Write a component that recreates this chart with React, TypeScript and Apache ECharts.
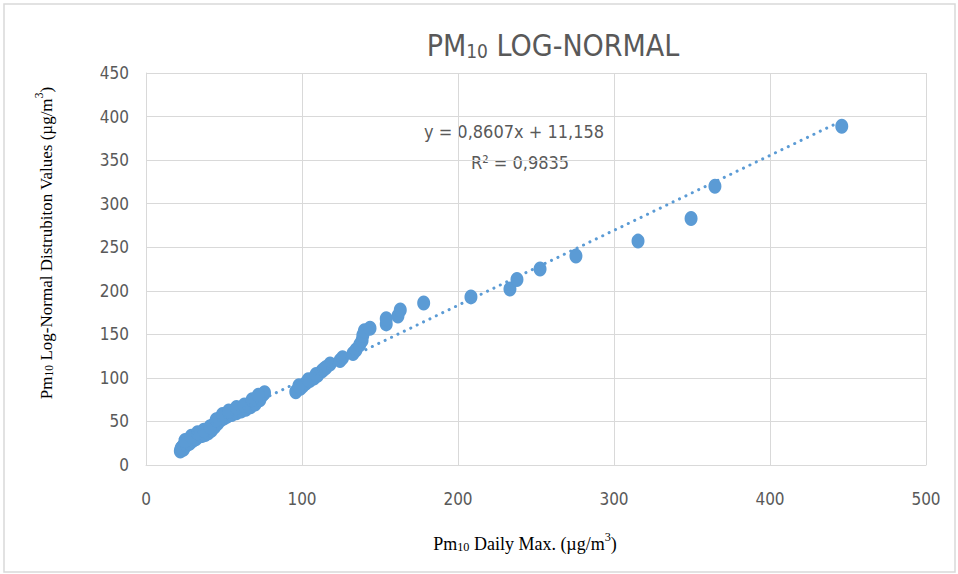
import React, { useEffect, useRef } from "react";
import * as echarts from "echarts";

const dailyMax: number[] = [
  22, 22.5, 23, 24, 25, 26, 27, 28, 29, 30, 31, 32, 33, 34, 35, 36, 37, 38, 39, 40,
  41, 42, 43, 44, 45, 46, 47, 48, 49, 50, 52, 54, 55, 57, 59, 60, 62, 63, 65, 66,
  68, 69, 70, 71, 72, 73, 74, 75, 76,
  24, 26, 28, 30, 32, 34, 36, 38, 40, 42, 44, 46, 48, 50, 52, 55, 58, 61, 64, 67, 70, 73,
  25, 29, 33, 37, 41, 45, 49, 53, 58, 63, 68, 72,
  96, 99, 100.6, 102.6, 105, 107.7, 110, 112.8, 115.4, 118, 124.4, 126, 132.7, 134.6,
  137, 138.5, 139, 140, 143.6, 154, 154, 161.5, 163, 178, 208.3, 233.3, 237.8, 252.6,
  275.6, 315.4, 349.4, 364.7, 446,
  98, 104, 109, 114,
];
const logNormalValues: number[] = [
  16, 19, 20, 22, 24, 26, 27, 29, 30, 31, 32, 33, 34, 35, 36, 37, 37, 38, 39, 39,
  41, 43, 45, 47, 49, 51, 53, 54, 55, 57, 59, 60, 61, 62, 63, 64, 65, 66, 68, 69,
  71, 72, 74, 75, 77, 78, 80, 81, 83,
  18, 23, 25, 28, 30, 33, 34, 35, 37, 40, 44, 48, 52, 54, 56, 58, 60, 62, 64, 67, 70, 75,
  28, 33, 37, 40, 44, 52, 58, 62, 66, 69, 75, 80,
  84, 88, 91, 94, 97, 100, 103, 108, 112, 116, 120, 123, 128, 132,
  138, 143, 149, 154, 157, 162, 168, 171, 178, 186, 193, 202, 213, 225,
  240, 257, 283, 320, 389,
  91, 98, 104, 110,
];
const trendSlope = 0.8607;
const trendIntercept = 11.158;
const equationLabel = "y = 0,8607x + 11,158";
const r2Label = "R² = 0,9835";
const xTicks = { min: 0, max: 500, interval: 100 };
const yTicks = { min: 0, max: 450, interval: 50 };

const BLUE = "#5b9bd5";
const GRID = "#d9d9d9";
const LABEL = "#595959";
const NARROW = "'Liberation Sans Narrow', 'DejaVu Sans Condensed', 'Roboto Condensed', Roboto, sans-serif";
const SERIF = "'Liberation Serif', 'Times New Roman', serif";

const serifRich = (size: number) => ({
  a: { fontSize: size, fontFamily: SERIF, fill: "#000", lineHeight: 22, verticalAlign: "bottom" },
  s: { fontSize: size * 0.68, fontFamily: SERIF, fill: "#000", lineHeight: 12, verticalAlign: "bottom" },
  p: { fontSize: size * 0.68, fontFamily: SERIF, fill: "#000", lineHeight: 22, verticalAlign: "top" },
});

export default function App() {
  const ref = useRef<HTMLDivElement>(null);
  useEffect(() => {
    if (!ref.current) return;
    const chart = echarts.init(ref.current, null, { renderer: "svg" });
    const points = dailyMax.map((x, i) => [x, logNormalValues[i]]);
    const xMin = Math.min(...dailyMax);
    const xMax = Math.max(...dailyMax);
    const trend = [
      [xMin, trendSlope * xMin + trendIntercept],
      [xMax, trendSlope * xMax + trendIntercept],
    ];
    chart.setOption({
      animation: false,
      backgroundColor: "#ffffff",
      grid: { left: 146, right: 32, top: 73, bottom: 109 },
      xAxis: {
        type: "value",
        min: xTicks.min,
        max: xTicks.max,
        interval: xTicks.interval,
        axisLine: { show: true, lineStyle: { color: GRID, width: 1 } },
        axisTick: { show: false },
        splitLine: { show: true, lineStyle: { color: GRID, width: 1 } },
        axisLabel: { color: LABEL, fontSize: 17, fontFamily: NARROW, margin: 25 },
      },
      yAxis: {
        type: "value",
        min: yTicks.min,
        max: yTicks.max,
        interval: yTicks.interval,
        axisLine: { show: true, lineStyle: { color: GRID, width: 1 } },
        axisTick: { show: false },
        splitLine: { show: true, lineStyle: { color: GRID, width: 1 } },
        axisLabel: { color: LABEL, fontSize: 17, fontFamily: NARROW, margin: 17 },
      },
      series: [
        {
          type: "line",
          data: trend,
          symbol: "none",
          silent: true,
          lineStyle: { color: BLUE, width: 3, type: [0.1, 7], cap: "round" },
          z: 3,
        },
        {
          type: "scatter",
          data: points,
          symbol: "circle",
          symbolSize: [13, 15],
          itemStyle: { color: BLUE, opacity: 1 },
          z: 2,
        },
      ],
      graphic: [
        {
          type: "rect",
          shape: { x: 4, y: 4, width: 951, height: 568 },
          style: { fill: "none", stroke: GRID, lineWidth: 1.5 },
          silent: true,
          z: -1,
        },
        {
          type: "text",
          x: 553,
          y: 42,
          style: {
            text: "{a|PM}{s|10}{a| LOG-NORMAL}",
            align: "center",
            verticalAlign: "middle",
            fill: LABEL,
            fontFamily: NARROW,
            rich: {
              a: { fontSize: 30, fontFamily: NARROW, fill: LABEL, lineHeight: 36, verticalAlign: "bottom" },
              s: { fontSize: 19, fontFamily: NARROW, fill: LABEL, lineHeight: 18, verticalAlign: "bottom" },
            },
          },
        },
        {
          type: "text",
          x: 514,
          y: 131,
          style: {
            text: equationLabel,
            align: "center",
            verticalAlign: "middle",
            fill: LABEL,
            fontSize: 18,
            fontFamily: NARROW,
          },
        },
        {
          type: "text",
          x: 520,
          y: 162,
          style: {
            text: r2Label,
            align: "center",
            verticalAlign: "middle",
            fill: LABEL,
            fontSize: 18,
            fontFamily: NARROW,
          },
        },
        {
          type: "text",
          x: 525,
          y: 542,
          style: {
            text: "{a|Pm}{s|10}{a| Daily Max. (µg/m}{p|3}{a|)}",
            align: "center",
            verticalAlign: "middle",
            fill: "#000",
            rich: serifRich(18),
          },
        },
        {
          type: "text",
          x: 44,
          y: 243,
          rotation: Math.PI / 2,
          style: {
            text: "{a|Pm}{s|10}{a| Log-Normal Distrubiton Values (µg/m}{p|3}{a|)}",
            align: "center",
            verticalAlign: "middle",
            fill: "#000",
            rich: serifRich(17),
          },
        },
      ],
    });
    return () => chart.dispose();
  }, []);
  return (
    <div
      ref={ref}
      style={{ position: "fixed", left: 0, top: 0, width: 958, height: 574, background: "#fff" }}
    />
  );
}
